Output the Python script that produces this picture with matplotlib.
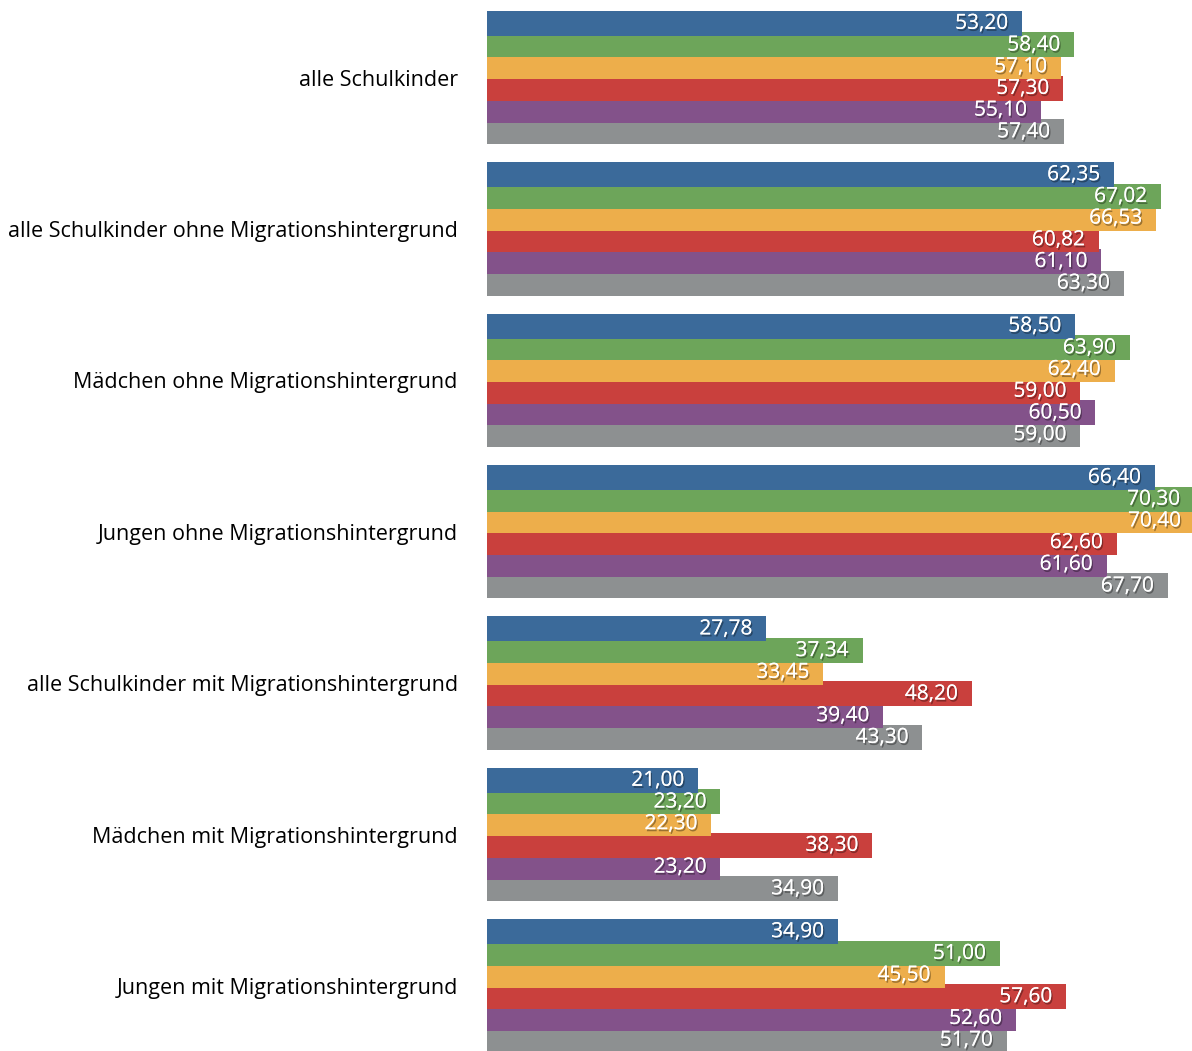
import matplotlib
matplotlib.use("Agg")
from matplotlib import pyplot as plt
from matplotlib import patheffects as pe

categories = [
    "alle Schulkinder",
    "alle Schulkinder ohne Migrationshintergrund",
    "Mädchen ohne Migrationshintergrund",
    "Jungen ohne Migrationshintergrund",
    "alle Schulkinder mit Migrationshintergrund",
    "Mädchen mit Migrationshintergrund",
    "Jungen mit Migrationshintergrund",
]

series_1 = [53.20, 62.35, 58.50, 66.40, 27.78, 21.00, 34.90]
series_2 = [58.40, 67.02, 63.90, 70.30, 37.34, 23.20, 51.00]
series_3 = [57.10, 66.53, 62.40, 70.40, 33.45, 22.30, 45.50]
series_4 = [57.30, 60.82, 59.00, 62.60, 48.20, 38.30, 57.60]
series_5 = [55.10, 61.10, 60.50, 61.60, 39.40, 23.20, 52.60]
series_6 = [57.40, 63.30, 59.00, 67.70, 43.30, 34.90, 51.70]

series = [series_1, series_2, series_3, series_4, series_5, series_6]
colors = ["#3b6a9a", "#6da55a", "#edae4b", "#c9403d", "#83528a", "#8d9091"]

plt.rcParams['font.family'] = ['Open Sans', 'DejaVu Sans']

fig = plt.figure(figsize=(11.92, 10.51), dpi=100)
ax = fig.add_axes([487 / 1192, 0, 1 - 487 / 1192, 1])

step = 0.1433
height = 0.165
shadow = [pe.withSimplePatchShadow(offset=(1, -1.5), shadow_rgbFace='black', alpha=0.35),
          pe.Normal()]

for j, (vals, col) in enumerate(zip(series, colors)):
    ys = [i + (j - 2.5) * step for i in range(len(categories))]
    ax.barh(ys, vals, height=height, color=col, zorder=10 - j, linewidth=0)
    for y, v in zip(ys, vals):
        t = ax.annotate(f"{v:.2f}".replace(".", ","), xy=(v, y), xytext=(-10, 0),
                        textcoords="offset points", ha="right", va="center",
                        color="white", fontsize=15, zorder=20,
                        annotation_clip=False)
        t.set_path_effects(shadow)

ax.set_xlim(0, 70.1)
ax.set_ylim(6.430, -0.512)
ax.set_yticks(range(len(categories)))
ax.set_yticklabels(categories, fontsize=15.5)
ax.tick_params(axis="y", length=0, pad=21)
ax.set_xticks([])
for s in ax.spines.values():
    s.set_visible(False)

fig.savefig("out.png")
